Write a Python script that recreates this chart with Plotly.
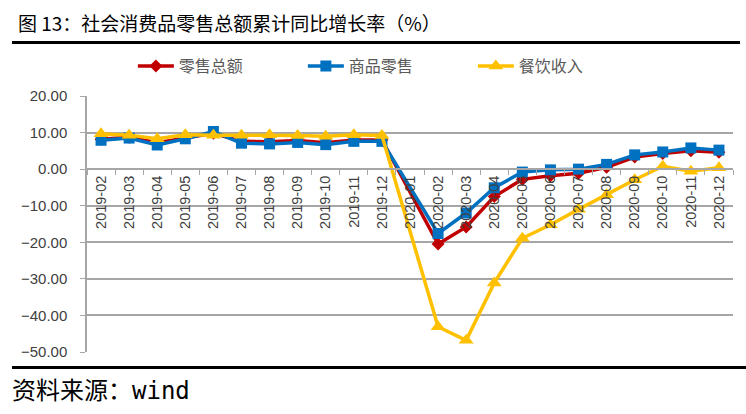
import plotly.graph_objects as go

months = ["2019-02","2019-03","2019-04","2019-05","2019-06","2019-07","2019-08","2019-09","2019-10","2019-11","2019-12",
          "2020-01","2020-02","2020-03","2020-04","2020-05","2020-06","2020-07","2020-08","2020-09","2020-10","2020-11","2020-12"]
retail_total = [8.2,8.7,7.2,8.6,9.8,7.6,7.5,7.8,7.2,8.0,8.0,
                None,-20.5,-15.8,-7.5,-2.8,-1.8,-1.1,0.5,3.3,4.3,5.0,4.6]
goods_retail = [7.9,8.5,6.6,8.3,10.3,7.1,6.9,7.3,6.7,7.6,7.6,
                None,-17.6,-12.0,-5.1,-0.8,-0.2,0.0,1.3,3.9,4.7,5.8,5.2]
catering = [9.7,9.3,8.3,9.4,9.3,9.3,9.4,9.2,9.0,9.4,9.2,
            None,-43.1,-46.8,-31.1,-18.9,-15.2,-11.0,-7.0,-2.9,0.8,-0.6,0.4]
y_ticks = [20,10,0,-10,-20,-30,-40,-50]

fig = go.Figure()
fig.add_trace(go.Scatter(x=months, y=retail_total, name="零售总额", mode="lines+markers",
                         connectgaps=True, line=dict(color="#C00000", width=3.5),
                         marker=dict(symbol="diamond", size=10, color="#C00000")))
fig.add_trace(go.Scatter(x=months, y=goods_retail, name="商品零售", mode="lines+markers",
                         connectgaps=True, line=dict(color="#0070C0", width=3.5),
                         marker=dict(symbol="square", size=11, color="#0070C0")))
fig.add_trace(go.Scatter(x=months, y=catering, name="餐饮收入", mode="lines+markers",
                         connectgaps=True, line=dict(color="#FFC000", width=3.5),
                         marker=dict(symbol="triangle-up", size=13, color="#FFC000")))

fig.update_layout(
    width=746, height=414,
    margin=dict(l=87, r=13, t=96, b=62),
    paper_bgcolor="white", plot_bgcolor="white",
    font=dict(family="Liberation Sans, Noto Sans CJK SC", color="#404040"),
    showlegend=True,
    legend=dict(orientation="h", x=0.071, y=(352-66)/256, xanchor="left", yanchor="middle",
                font=dict(family="Noto Sans CJK SC", size=16, color="#595959"),
                entrywidth=119, itemwidth=36, bgcolor="rgba(0,0,0,0)"),
    xaxis=dict(type="category", categoryorder="array", categoryarray=months,
               range=[-0.5, 22.5], anchor="free", position=50/70,
               showline=True, linecolor="#A6A6A6", linewidth=1.5,
               ticks="outside", tickson="boundaries", ticklen=5, tickcolor="#A6A6A6",
               tickangle=-90, tickfont=dict(size=14.5, color="#404040", family="Liberation Sans"),
               showgrid=False, zeroline=False),
    yaxis=dict(range=[-50, 20], tickvals=y_ticks, tickformat=".2f",
               showline=True, linecolor="#A6A6A6", linewidth=1.5,
               ticks="outside", ticklen=5, tickcolor="#A6A6A6", ticklabelstandoff=10,
               showgrid=True, gridcolor="#A6A6A6", gridwidth=1.5,
               zeroline=False, tickfont=dict(size=15, color="#404040", family="Liberation Sans")),
)

fig.add_annotation(text="图 13：社会消费品零售总额累计同比增长率（%）", xref="paper", yref="paper",
                   x=-87/646, y=(414-62-22)/256, xanchor="left", yanchor="middle", showarrow=False,
                   xshift=16, font=dict(family="Noto Sans CJK SC", size=19, color="#000000"))
fig.add_annotation(text="资料来源：wind", xref="paper", yref="paper",
                   x=-87/646, y=(352-391)/256, xanchor="left", yanchor="middle", showarrow=False,
                   xshift=10, font=dict(family="DejaVu Sans Mono, Noto Sans CJK SC", size=24, color="#000000"))
fig.add_shape(type="line", xref="paper", yref="paper", x0=-75/646, x1=653/646,
              y0=(352-42.5)/256, y1=(352-42.5)/256, line=dict(color="black", width=3))
fig.add_shape(type="line", xref="paper", yref="paper", x0=-75/646, x1=659/646,
              y0=(352-367.5)/256, y1=(352-367.5)/256, line=dict(color="black", width=3))

fig.write_html("out.html")
